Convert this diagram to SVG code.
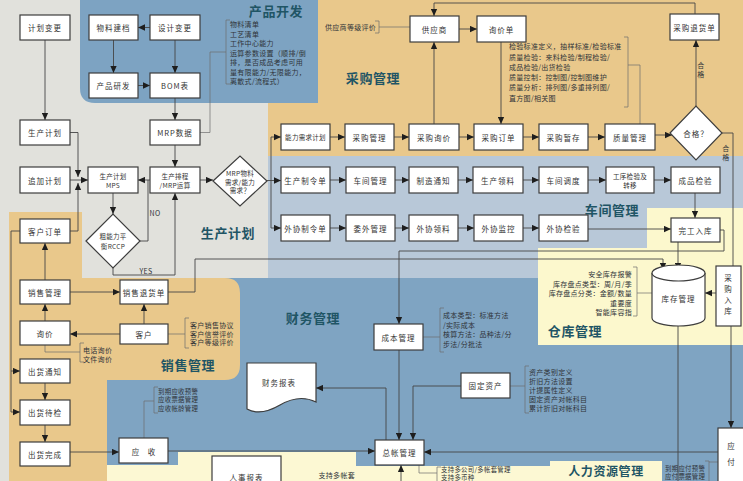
<svg xmlns="http://www.w3.org/2000/svg" width="743" height="481" viewBox="0 0 743 481">
<defs>
<marker id="ah" viewBox="0 0 10 10" refX="10" refY="5" markerWidth="7" markerHeight="7" markerUnits="userSpaceOnUse" orient="auto"><path d="M0,0.5L10,5L0,9.5Z" fill="#1e1e1e"/></marker>
<style>
.bx{fill:#fff;stroke:#3d3d3d;stroke-width:1.2}
.t{font-family:"Noto Sans CJK SC","Noto Sans",sans-serif;font-size:7.5px;fill:#333;text-anchor:middle;dominant-baseline:central;letter-spacing:1px}
.sm{font-size:6.5px;letter-spacing:0.3px}
.l{font-family:"Noto Sans CJK SC","Noto Sans",sans-serif;font-size:7px;fill:#2f3338;letter-spacing:0.3px;dominant-baseline:central}
.xs{font-size:6.4px}
.r{text-anchor:end}
.m{text-anchor:middle}
.ti{font-family:"Noto Sans CJK SC","Noto Sans",sans-serif;font-size:13px;font-weight:bold;fill:#1f5565;text-anchor:middle;dominant-baseline:central;letter-spacing:0.6px}
.c{fill:none;stroke:#454545;stroke-width:0.9}
.a{marker-end:url(#ah)}
.b{fill:none;stroke:#6f6f6f;stroke-width:0.7}
</style>
</defs>
<g id="regions">
<rect width="743" height="481" fill="#e1e1dc"/>
<rect x="268" y="0" width="475" height="156" fill="#e9c88b"/>
<path d="M80,0H318V103H95Q80,103 80,88Z" fill="#7da3c2"/>
<rect x="268" y="156" width="475" height="122" fill="#b8c8d8"/>
<rect x="107" y="278" width="636" height="203" fill="#7fa4c2"/>
<path d="M9,212H82V278H225Q240,278 240,293V365Q240,380 225,380H107V481H9Z" fill="#e9c88b"/>
<path d="M647,208H743V345H538V248H647Z" fill="#fcf8cd"/>
<path d="M107,465H178V452H356V466H550V461H662V481H107Z" fill="#fcf8d3"/>
</g>
<g id="titles">
<text class="ti" x="276" y="10">产品开发</text>
<text class="ti" x="373" y="77">采购管理</text>
<text class="ti" x="612" y="209">车间管理</text>
<text class="ti" x="228" y="232">生产计划</text>
<text class="ti" x="188" y="364">销售管理</text>
<text class="ti" x="313" y="317">财务管理</text>
<text class="ti" x="575" y="330">仓库管理</text>
<text class="ti" x="606" y="470" style="font-size:12px">人力资源管理</text>
</g>
<g id="notes">
<text class="l" x="230" y="24">物料清单</text>
<text class="l" x="230" y="33.5">工艺清单</text>
<text class="l" x="230" y="43">工作中心能力</text>
<text class="l" x="230" y="52.5">运算参数设置（顺排/倒</text>
<text class="l" x="230" y="62">排，是否成品考虑可用</text>
<text class="l" x="230" y="71.5">量有限能力/无限能力，</text>
<text class="l" x="230" y="81">离散式/流程式）</text>
<text class="l" x="325" y="27">供应商等级评价</text>
<text class="l" x="509" y="46">检验标准定义，抽样标准/检验标准</text>
<text class="l" x="509" y="56.5">质量检验：来料检验/制程检验/</text>
<text class="l" x="509" y="67">成品检验/出货检验</text>
<text class="l" x="509" y="77">质量控制：控制图/控制图维护</text>
<text class="l" x="509" y="87">质量分析：排列图/多重排列图/</text>
<text class="l" x="509" y="97.5">直方图/相关图</text>
<text class="l m" x="701" y="65">合</text>
<text class="l m" x="701" y="74">格</text>
<text class="l m" x="726" y="148">合</text>
<text class="l m" x="726" y="157">格</text>
<text class="l m" x="155" y="213">NO</text>
<text class="l m" x="146" y="271">YES</text>
<text class="l r" x="632" y="274">安全库存报警</text>
<text class="l r" x="632" y="283.5">库存盘点类型：周/月/季</text>
<text class="l r" x="632" y="293">库存盘点分类：金额/数量</text>
<text class="l r" x="632" y="302.5">重要度</text>
<text class="l r" x="632" y="312">智能库容指</text>
<text class="l" x="443" y="315">成本类型：标准方法</text>
<text class="l" x="443" y="324.5">/实际成本</text>
<text class="l" x="443" y="334">核算方法：品种法/分</text>
<text class="l" x="443" y="344">步法/分批法</text>
<text class="l" x="529" y="372">资产类别定义</text>
<text class="l" x="529" y="381">折旧方法设置</text>
<text class="l" x="529" y="390">计提属性定义</text>
<text class="l" x="529" y="399">固定资产对帐科目</text>
<text class="l" x="529" y="408">累计折旧对帐科目</text>
<text class="l" x="190" y="325">客户销售协议</text>
<text class="l" x="190" y="333.5">客户信誉评价</text>
<text class="l" x="190" y="342">客户等级评价</text>
<text class="l" x="83" y="350">电话询价</text>
<text class="l" x="83" y="359">文件询价</text>
<text class="l xs" x="158" y="391">到期应收预警</text>
<text class="l xs" x="158" y="399.5">应收票据管理</text>
<text class="l xs" x="158" y="408">应收帐龄管理</text>
<text class="l r" x="355" y="475">支持多帐套</text>
<text class="l xs" x="441" y="469.5">支持多公司/多帐套管理</text>
<text class="l xs" x="441" y="477.5">支持多币种</text>
<text class="l xs" x="665" y="468">到期应付预警</text>
<text class="l xs" x="665" y="476.5">应付票据管理</text>
</g>
<g id="connectors">
<path class="b" d="M230,20H226V84H230M375,21H379V33H375M624,37H628V107H624M444,308H440V352H444M529,366H525V413H529M633,267H637V316H633M189,318H185V348H189M84,343H80V362H84M158,387H154V413H158M441,467H437V485M705,461H709V485M709,462H718"/>
<path class="b" d="M200,132.5H210V52H226M379,27H410M628,65H640V124M168,334H185M45,345V352H80M144,438V401H154M419,465V473H437M423,337H440M510,386H525M637,293H652"/>
<path class="c a" d="M150,27.5H138"/>
<path class="c a" d="M113.5,40V73"/>
<path class="c a" d="M175,40V73"/>
<path class="c a" d="M138,85.5H150"/>
<path class="c a" d="M175,98V120"/>
<path class="c a" d="M45,40V120"/>
<path class="c a" d="M175,145V167"/>
<path class="c a" d="M70,132.5H78V177"/>
<path class="c a" d="M70,231H78V183"/>
<path class="c a" d="M70,180H88"/>
<path class="c a" d="M150,180H138"/>
<path class="c a" d="M200,180H213"/>
<path class="c a" d="M113,193V214"/>
<path class="c" d="M140,241H148V180"/>
<path class="c a" d="M113,268V275H175V193"/>
<path class="c a" d="M267,180.5H281"/>
<path class="c" d="M271,137V228"/>
<path class="c a" d="M271,137H281"/>
<path class="c a" d="M271,228H281"/>
<path class="c a" d="M330,137H345"/>
<path class="c a" d="M394,137H409"/>
<path class="c a" d="M459,137H474"/>
<path class="c a" d="M523,137H539"/>
<path class="c a" d="M588,137H605"/>
<path class="c a" d="M655,135H672"/>
<path class="c a" d="M459,29H477"/>
<path class="c a" d="M434,124V42"/>
<path class="c a" d="M501,42V124"/>
<path class="c a" d="M695,14V3H434V16"/>
<path class="c a" d="M696,106V40"/>
<path class="c" d="M722,133H733V266"/>
<path class="c a" d="M330,180H346"/>
<path class="c a" d="M395,180H409"/>
<path class="c a" d="M458,180H473"/>
<path class="c a" d="M523,180H539"/>
<path class="c a" d="M588,180H606"/>
<path class="c a" d="M654,180H671"/>
<path class="c a" d="M330,228H346"/>
<path class="c a" d="M395,228H409"/>
<path class="c a" d="M458,228H474"/>
<path class="c a" d="M523,228H539"/>
<path class="c a" d="M588,229H671"/>
<path class="c a" d="M695,193V218"/>
<path class="c a" d="M678,242V270"/>
<path class="c a" d="M720,230H724V251H399V324"/>
<path class="c a" d="M168,292H195V259H663V270"/>
<path class="c a" d="M716,293H705"/>
<path class="c" d="M678,326V481"/>
<path class="c a" d="M731,326V428"/>
<path class="c a" d="M718,452H424"/>
<path class="c a" d="M168,451H375"/>
<path class="c a" d="M399,350V440"/>
<path class="c a" d="M461,386H413V440"/>
<path class="c a" d="M386,440V388H316"/>
<path class="c a" d="M401,481V465"/>
<path class="c a" d="M45,280V243"/>
<path class="c a" d="M70,292H120"/>
<path class="c a" d="M45,321V304"/>
<path class="c a" d="M144,324V304"/>
<path class="c a" d="M120,334H70"/>
<path class="c a" d="M45,383V400"/>
<path class="c a" d="M45,425V442"/>
<path class="c a" d="M20,231H11V412H20"/>
<path class="c a" d="M11,371H20"/>
<path class="c a" d="M70,452H119"/>
</g>
<g id="n-jhbg"><rect class="bx" x="20" y="15" width="50" height="25"/><text class="t" x="45" y="27.5">计划变更</text></g>
<g id="n-wljd"><rect class="bx" x="89" y="15" width="49" height="25"/><text class="t" x="113.5" y="27.5">物料建档</text></g>
<g id="n-sjbg"><rect class="bx" x="150" y="15" width="50" height="25"/><text class="t" x="175" y="27.5">设计变更</text></g>
<g id="n-cpyf"><rect class="bx" x="89" y="73" width="49" height="25"/><text class="t" x="113.5" y="85.5">产品研发</text></g>
<g id="n-bom"><rect class="bx" x="150" y="73" width="50" height="25"/><text class="t" x="175" y="85.5">BOM表</text></g>
<g id="n-mrpsj"><rect class="bx" x="150" y="120" width="50" height="25"/><text class="t" x="175" y="132.5">MRP数据</text></g>
<g id="n-scjh"><rect class="bx" x="20" y="120" width="50" height="25"/><text class="t" x="45" y="132.5">生产计划</text></g>
<g id="n-zjjh"><rect class="bx" x="20" y="167" width="50" height="26"/><text class="t" x="45" y="180">追加计划</text></g>
<g id="n-mps"><rect class="bx" x="88" y="167" width="50" height="26"/><text class="t sm" x="113" y="175.5">生产计划</text><text class="t sm" x="113" y="185">MPS</text></g>
<g id="n-scpc"><rect class="bx" x="150" y="167" width="50" height="26"/><text class="t sm" x="175" y="175.5">生产排程</text><text class="t sm" x="175" y="185">/MRP运算</text></g>
<g id="n-mrpq"><polygon class="bx" points="213,181 240,156 267,181 240,206"/><text class="t sm" x="240" y="173">MRP物料</text><text class="t sm" x="240" y="181.5">需求/能力</text><text class="t sm" x="240" y="190">需求？</text></g>
<g id="n-rccp"><polygon class="bx" points="86,241 113,214 140,241 113,268"/><text class="t sm" x="113" y="236">粗能力平</text><text class="t sm" x="113" y="246">衡RCCP</text></g>
<g id="n-nlxq"><rect class="bx" x="281" y="124" width="49" height="26"/><text class="t sm" x="305.5" y="137">能力需求计划</text></g>
<g id="n-cggl"><rect class="bx" x="345" y="124" width="49" height="26"/><text class="t" x="369.5" y="137">采购管理</text></g>
<g id="n-cgxj"><rect class="bx" x="409" y="124" width="50" height="26"/><text class="t" x="434" y="137">采购询价</text></g>
<g id="n-cgdd"><rect class="bx" x="474" y="124" width="49" height="26"/><text class="t" x="498.5" y="137">采购订单</text></g>
<g id="n-cgzc"><rect class="bx" x="539" y="124" width="49" height="26"/><text class="t" x="563.5" y="137">采购暂存</text></g>
<g id="n-zlgl"><rect class="bx" x="605" y="124" width="50" height="26"/><text class="t" x="630" y="137">质量管理</text></g>
<g id="n-hg"><polygon class="bx" points="670,133 696,106 722,133 696,160"/><text class="t" x="696" y="133">合格？</text></g>
<g id="n-gys"><rect class="bx" x="410" y="16" width="49" height="26"/><text class="t" x="434.5" y="29">供应商</text></g>
<g id="n-xjd"><rect class="bx" x="477" y="16" width="49" height="26"/><text class="t" x="501.5" y="29">询价单</text></g>
<g id="n-cgthd"><rect class="bx" x="670" y="14" width="49" height="26"/><text class="t" x="694.5" y="27">采购退货单</text></g>
<g id="n-sczld"><rect class="bx" x="281" y="167" width="49" height="26"/><text class="t" x="305.5" y="180">生产制令单</text></g>
<g id="n-cjgl"><rect class="bx" x="346" y="167" width="49" height="26"/><text class="t" x="370.5" y="180">车间管理</text></g>
<g id="n-zztz"><rect class="bx" x="409" y="167" width="49" height="26"/><text class="t" x="433.5" y="180">制造通知</text></g>
<g id="n-scll"><rect class="bx" x="473" y="167" width="50" height="26"/><text class="t" x="498" y="180">生产领料</text></g>
<g id="n-cjdd"><rect class="bx" x="539" y="167" width="49" height="26"/><text class="t" x="563.5" y="180">车间调度</text></g>
<g id="n-gxjy"><rect class="bx" x="606" y="167" width="48" height="26"/><text class="t sm" x="630" y="175.5">工序检验及</text><text class="t sm" x="630" y="185">转移</text></g>
<g id="n-cpjy"><rect class="bx" x="671" y="167" width="49" height="26"/><text class="t" x="695.5" y="180">成品检验</text></g>
<g id="n-wxzld"><rect class="bx" x="281" y="215" width="49" height="26"/><text class="t" x="305.5" y="228">外协制令单</text></g>
<g id="n-wwgl"><rect class="bx" x="346" y="215" width="49" height="26"/><text class="t" x="370.5" y="228">委外管理</text></g>
<g id="n-wxll"><rect class="bx" x="409" y="215" width="49" height="26"/><text class="t" x="433.5" y="228">外协领料</text></g>
<g id="n-wxjk"><rect class="bx" x="474" y="215" width="49" height="26"/><text class="t" x="498.5" y="228">外协监控</text></g>
<g id="n-wxjy"><rect class="bx" x="539" y="215" width="49" height="26"/><text class="t" x="563.5" y="228">外协检验</text></g>
<g id="n-wgrk"><rect class="bx" x="671" y="218" width="49" height="24"/><text class="t" x="695.5" y="230">完工入库</text></g>
<g id="n-kcgl"><path class="bx" d="M652,273V318A26.5,8 0 0 0 705,318V273"/><ellipse class="bx" cx="678.5" cy="273" rx="26.5" ry="8"/><text class="t" x="678.5" y="298">库存管理</text></g>
<g id="n-cgrk"><rect class="bx" x="716" y="266" width="25" height="60"/><text class="t"><tspan x="728.5" y="277">采</tspan><tspan x="728.5" y="288">购</tspan><tspan x="728.5" y="299">入</tspan><tspan x="728.5" y="310">库</tspan></text></g>
<g id="n-yf"><rect class="bx" x="718" y="428" width="28" height="60"/><text class="t"><tspan x="731.5" y="445">应</tspan><tspan x="731.5" y="461">付</tspan></text></g>
<g id="n-khdd"><rect class="bx" x="20" y="219" width="50" height="24"/><text class="t" x="45" y="231">客户订单</text></g>
<g id="n-xsgl"><rect class="bx" x="20" y="280" width="50" height="24"/><text class="t" x="45" y="292">销售管理</text></g>
<g id="n-xsthd"><rect class="bx" x="120" y="280" width="48" height="24"/><text class="t" x="144" y="292">销售退货单</text></g>
<g id="n-xj"><rect class="bx" x="20" y="321" width="50" height="24"/><text class="t" x="45" y="333">询价</text></g>
<g id="n-kh"><rect class="bx" x="120" y="324" width="48" height="20"/><text class="t" x="144" y="334">客户</text></g>
<g id="n-chtz"><rect class="bx" x="20" y="359" width="50" height="24"/><text class="t" x="45" y="371">出货通知</text></g>
<g id="n-chdj"><rect class="bx" x="20" y="400" width="50" height="25"/><text class="t" x="45" y="412.5">出货待检</text></g>
<g id="n-chwc"><rect class="bx" x="20" y="442" width="50" height="24"/><text class="t" x="45" y="454">出货完成</text></g>
<g id="n-ys"><rect class="bx" x="119" y="438" width="49" height="25"/><text class="t"><tspan x="136" y="450.5">应</tspan><tspan x="152" y="450.5">收</tspan></text></g>
<g id="n-cbgl"><rect class="bx" x="374" y="324" width="49" height="26"/><text class="t" x="398.5" y="337">成本管理</text></g>
<g id="n-gdzc"><rect class="bx" x="461" y="373" width="49" height="25"/><text class="t" x="485.5" y="385.5">固定资产</text></g>
<g id="n-zzgl"><rect class="bx" x="375" y="440" width="49" height="25"/><text class="t" x="399.5" y="452.5">总帐管理</text></g>
<g id="n-cwbb"><path class="bx" d="M247,363H316V402C304,396 292,398 280,405C268,412 256,414 247,409Z"/><text class="t" x="279" y="382">财务报表</text></g>
<g id="n-rsbb"><rect class="bx" x="212" y="456" width="69" height="32"/><text class="t" x="246.5" y="477">人事报表</text></g>
</svg>
